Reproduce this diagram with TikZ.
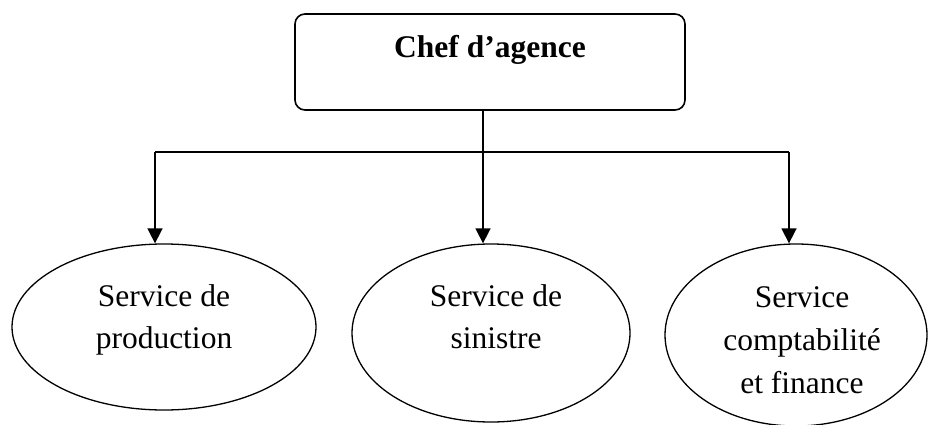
\documentclass[tikz,border=0pt]{standalone}
\usepackage{fontspec}
\setmainfont{Liberation Serif}
\usetikzlibrary{shapes.geometric,arrows.meta}
\begin{document}
\begin{tikzpicture}[x=1pt,y=-1pt,
  line width=1.6pt,
  boxstyle/.style={draw,rounded corners=10pt,line width=1.6pt},
  ellstyle/.style={draw,ellipse,inner sep=0pt,line width=1.3pt},
  txt/.style={font=\fontsize{31.5}{42}\selectfont,align=center,anchor=base,inner sep=0pt},
  arr/.style={-{Triangle[width=15pt,length=15pt]},line width=1.6pt}]
\useasboundingbox (0,0) rectangle (928,425);
\node[boxstyle,minimum width=390pt,minimum height=96pt] (chef) at (490,62) {};
\node[txt,font=\fontsize{31.5}{42}\selectfont\bfseries] (cheft) at (490,58) {Chef d’agence};
\node[ellstyle,minimum width=304pt,minimum height=166pt] (e1) at (164,327) {};
\node[ellstyle,minimum width=278pt,minimum height=178pt] (e2) at (491,333) {};
\node[ellstyle,minimum width=262pt,minimum height=182pt] (e3) at (796,335) {};
\node[txt] (t1) at (164,348) {Service de\\production};
\node[txt] (t2) at (496,348) {Service de\\sinistre};
\node[txt,font=\fontsize{31.5}{43}\selectfont] (t3) at (802,393) {Service\\comptabilité\\et finance};
\coordinate (hl) at (155,152);
\coordinate (hm) at (483,152);
\coordinate (hr) at (789,152);
\draw (chef.south -| hm) -- (hm);
\draw (hl) -- (hr);
\draw[arr] (hl) -- (hl |- e1.north);
\draw[arr] (hm) -- (hm |- e2.north);
\draw[arr] (hr) -- (hr |- e3.north);
\end{tikzpicture}
\end{document}
